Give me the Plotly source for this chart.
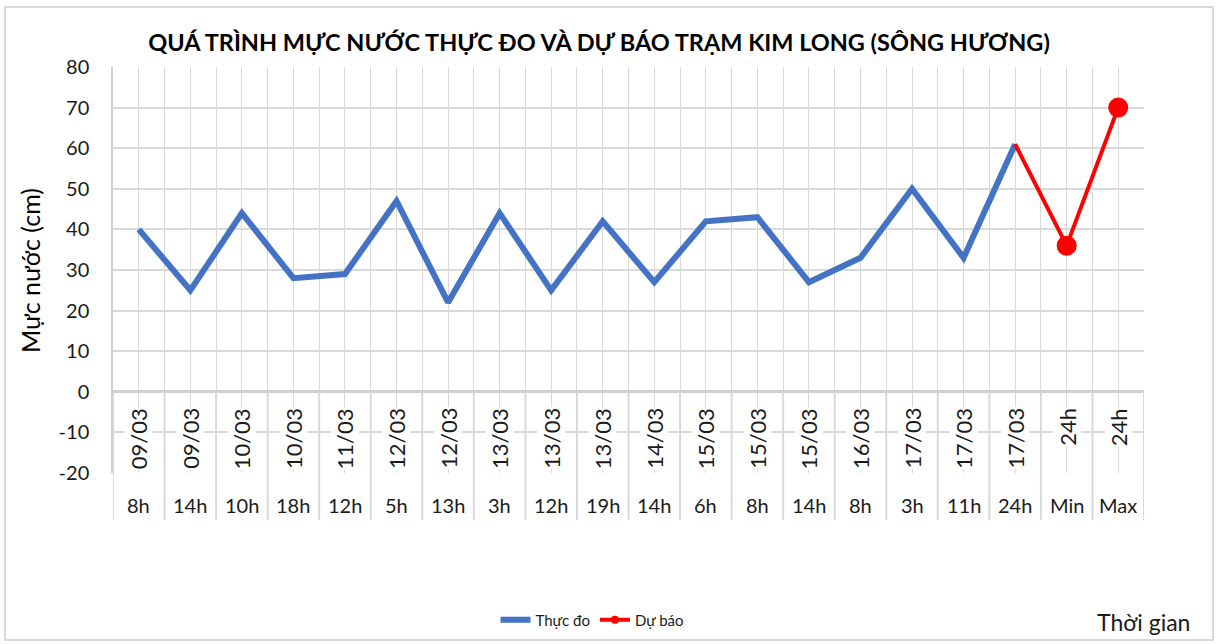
import plotly.graph_objects as go

# ---- data ----
dates = ["09/03", "09/03", "10/03", "10/03", "11/03", "12/03", "12/03", "13/03", "13/03", "13/03",
         "14/03", "15/03", "15/03", "15/03", "16/03", "17/03", "17/03", "17/03", "24h", "24h"]
hours = ["8h", "14h", "10h", "18h", "12h", "5h", "13h", "3h", "12h", "19h",
         "14h", "6h", "8h", "14h", "8h", "3h", "11h", "24h", "Min", "Max"]
observed = [40, 25, 44, 28, 29, 47, 22, 44, 25, 42, 27, 42, 43, 27, 33, 50, 33, 61]
forecast = [61, 36, 70]
forecast_start = 17
y_ticks = [-20, -10, 0, 10, 20, 30, 40, 50, 60, 70, 80]
y_tick_labels = ["-20", "-10", "0", "10", "20", "30", "40", "50", "60", "70", "80"]

title_text = "QUÁ TRÌNH MỰC NƯỚC THỰC ĐO VÀ DỰ BÁO TRẠM KIM LONG (SÔNG HƯƠNG)"
ytitle = "Mực nước (cm)"
xtitle = "Thời gian"

FONT = "Lato"
W, H = 1217, 644
L, R, T, B = 113, 1144, 67, 473
pw, ph = R - L, B - T


def px_x(p):
    return (p - L) / pw


def px_y(p):
    return (B - p) / ph


n = len(hours)
xs_obs = list(range(len(observed)))
xs_fc = list(range(forecast_start, forecast_start + len(forecast)))

fig = go.Figure()
fig.add_trace(go.Scatter(x=xs_obs, y=observed, mode="lines", name="Thực đo",
                         line=dict(color="#4472C4", width=6), showlegend=True))
fig.add_trace(go.Scatter(x=xs_fc, y=forecast, mode="lines+markers", name="Dự báo",
                         line=dict(color="#FF0000", width=4),
                         marker=dict(size=[0, 20, 20], color="#FF0000", opacity=1,
                                     line=dict(width=0)),
                         showlegend=False))
# legend proxy for forecast
fig.add_trace(go.Scatter(x=[None], y=[None], mode="lines+markers", name="Dự báo",
                         line=dict(color="#FF0000", width=4),
                         marker=dict(size=8, color="#FF0000", opacity=1, line=dict(width=0))))

shapes = []
# category boundary lines through label area
for i in range(n + 1):
    xv = i - 0.5
    shapes.append(dict(type="line", xref="x", yref="paper", x0=xv, x1=xv,
                       y0=0.2, y1=px_y(520), line=dict(color="#d9d9d9", width=2), layer="above"))
# outer border
shapes.append(dict(type="rect", xref="paper", yref="paper",
                   x0=px_x(5), x1=px_x(1213), y0=px_y(640), y1=px_y(7),
                   line=dict(color="#d9d9d9", width=2), layer="below"))

annotations = []
for i, d in enumerate(dates):
    annotations.append(dict(x=i, y=px_y(407), xref="x", yref="paper", text=d,
                            textangle=-90, showarrow=False, yanchor="top", xanchor="center",
                            bgcolor="white", borderpad=0,
                            font=dict(family=FONT, size=22, color="#1a1a1a")))
for i, h in enumerate(hours):
    annotations.append(dict(x=i, y=px_y(505), xref="x", yref="paper", text=h,
                            showarrow=False, yanchor="middle", xanchor="center",
                            font=dict(family=FONT, size=20, color="#1a1a1a")))
annotations.append(dict(x=px_x(30), y=px_y(271), xref="paper", yref="paper", text=ytitle,
                        textangle=-90, showarrow=False, xanchor="center", yanchor="middle",
                        font=dict(family=FONT, size=25, color="#000000")))
annotations.append(dict(x=px_x(1143), y=px_y(622), xref="paper", yref="paper", text=xtitle,
                        showarrow=False, xanchor="center", yanchor="middle",
                        font=dict(family=FONT, size=23, color="#1a1a1a")))

fig.update_layout(
    width=W, height=H,
    margin=dict(l=L, r=W - R, t=T, b=H - B, autoexpand=False),
    paper_bgcolor="white", plot_bgcolor="white",
    title=dict(text=title_text, x=599 / W, xanchor="center", y=1 - 43 / H, yanchor="middle",
               xref="container", yref="container",
               font=dict(family=FONT, size=23.5, color="#000000", weight="bold")),
    font=dict(family=FONT, color="#1a1a1a"),
    showlegend=True,
    legend=dict(orientation="h", x=px_x(592), xanchor="center", y=px_y(620), yanchor="middle",
                font=dict(family=FONT, size=15, color="#1a1a1a"), itemwidth=30,
                bgcolor="rgba(0,0,0,0)"),
    shapes=shapes,
    annotations=annotations,
)
fig.update_xaxes(range=[-0.5, n - 0.5], showticklabels=False,
                 tickvals=[i * 0.5 - 0.5 for i in range(2 * n + 1)],
                 showgrid=True, gridcolor="#d9d9d9", gridwidth=1, zeroline=False,
                 showline=False, ticks="")
fig.update_yaxes(range=[-20, 80], tickvals=y_ticks, ticktext=y_tick_labels,
                 showgrid=True, gridcolor="#d9d9d9",
                 gridwidth=1.5, zeroline=True, zerolinecolor="#d0d0d0", zerolinewidth=2.5,
                 showline=True, linecolor="#d0d0d0", linewidth=1.5,
                 ticks="", ticklabelstandoff=18,
                 tickfont=dict(family=FONT, size=20, color="#1a1a1a"))

fig.write_html("out.html", config={"displayModeBar": False},
               post_script="document.body.style.margin='0';")
